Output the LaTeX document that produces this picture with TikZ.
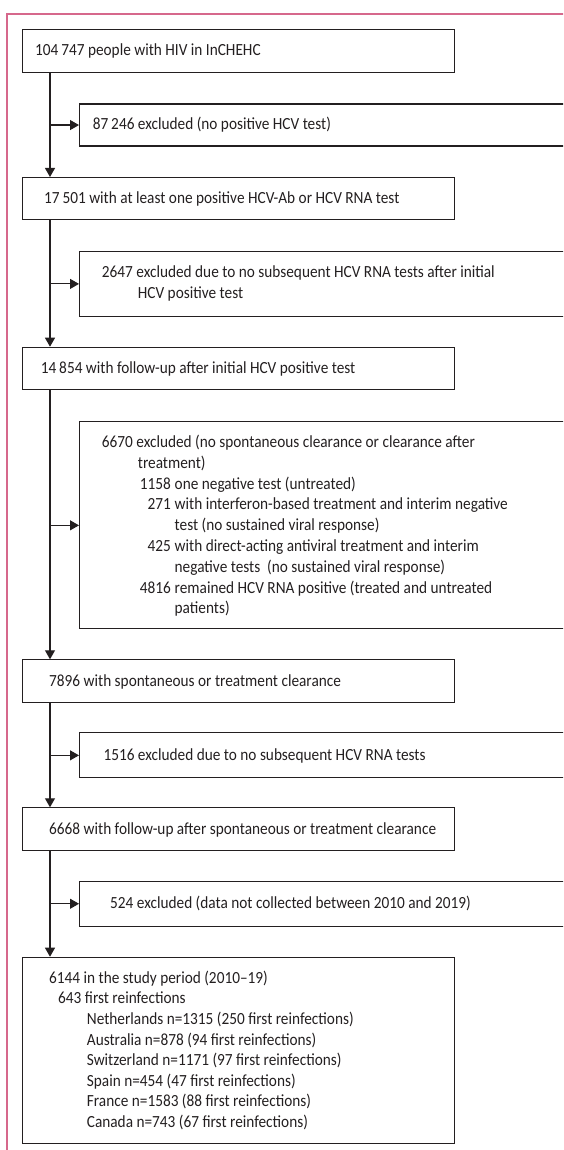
\documentclass[tikz,border=0pt]{standalone}
\usepackage{fontspec}
\setmainfont{Carlito}[FakeStretch=0.9]
\usetikzlibrary{arrows.meta}
\definecolor{frame}{RGB}{214,104,140}
\definecolor{ink}{RGB}{35,31,32}
\tikzset{
  box/.style={draw=ink, line width=1.1pt, rectangle, anchor=north west, inner sep=0pt},
  mainbox/.style={box, minimum width=432.5pt},
  exbox/.style={box, minimum width=520pt},
  txt/.style={anchor=base west, inner sep=0pt, text=ink, font=\fontsize{17pt}{20pt}\selectfont},
  num/.style={txt, anchor=base east},
  arr/.style={draw=ink, line width=1.1pt, -{Triangle[length=9pt,width=10pt]}},
  line/.style={draw=ink, line width=1.1pt}
}
\begin{document}
\begin{tikzpicture}[x=1pt,y=-1pt]
\useasboundingbox (0,0) rectangle (563,1150);
\clip (0,0) rectangle (563,1150);
\draw[frame, line width=2pt] (7,1160) -- (7,14) -- (600,14);
\coordinate (tx) at (50,0);
% boxes
\node[mainbox, minimum height=43pt] (b1) at (21.5,29) {};
\node[exbox, minimum height=42pt] (e1) at (79,103.5) {};
\node[mainbox, minimum height=42pt] (b2) at (21.5,177) {};
\node[exbox, minimum height=65.3pt] (e2) at (79,250.7) {};
\node[mainbox, minimum height=42.6pt] (b3) at (21.5,346.7) {};
\node[exbox, minimum height=207pt] (e3) at (79,421.3) {};
\node[mainbox, minimum height=42.4pt] (b4) at (21.5,659.3) {};
\node[exbox, minimum height=45pt] (e4) at (79,732.3) {};
\node[mainbox, minimum height=42.7pt] (b5) at (21.5,807.3) {};
\node[exbox, minimum height=45pt] (e5) at (79,880.7) {};
\node[mainbox, minimum height=186pt] (b6) at (21.5,956.7) {};
% connectors
\draw[arr] (b1.south west -| tx) -- (b2.north west -| tx);
\draw[arr] (b2.south west -| tx) -- (b3.north west -| tx);
\draw[arr] (b3.south west -| tx) -- (b4.north west -| tx);
\draw[arr] (b4.south west -| tx) -- (b5.north west -| tx);
\draw[arr] (b5.south west -| tx) -- (b6.north west -| tx);
\draw[arr] (e1.west -| tx) -- (e1.west);
\draw[arr] (e2.west -| tx) -- (e2.west);
\draw[arr] (e3.west -| tx) -- (e3.west);
\draw[arr] (e4.west -| tx) -- (e4.west);
\draw[arr] (e5.west -| tx) -- (e5.west);
% texts
\node[txt] (t1) at (35,56) {104\,747 people with HIV in InCHEHC};
\node[txt] (t2) at (92.7,130) {87\,246 excluded (no positive HCV test)};
\node[txt] (t3) at (44,203.5) {17\,501 with at least one positive HCV-Ab or HCV RNA test};
\node[txt] (t4a) at (101.7,277.5) {2647 excluded due to no subsequent HCV RNA tests after initial};
\node[txt] (t4b) at (137.7,298) {HCV positive test};
\node[txt] (t5) at (40.7,373.5) {14\,854 with follow-up after initial HCV positive test};
\node[txt] (t6a) at (101.7,447.5) {6670 excluded (no spontaneous clearance or clearance after};
\node[txt] (t6b) at (137.7,468.3) {treatment)};
\node[num] (n1) at (171,489.1) {1158};
\node[txt] (t6c) at (174.5,489.1) {one negative test (untreated)};
\node[num] (n2) at (171,509.9) {271};
\node[txt] (t6d) at (174.5,509.9) {with interferon-based treatment and interim negative};
\node[txt] (t6e) at (174.5,530.7) {test (no sustained viral response)};
\node[num] (n3) at (171,551.5) {425};
\node[txt] (t6f) at (174.5,551.5) {with direct-acting antiviral treatment and interim};
\node[txt] (t6g) at (174.5,572.3) {negative tests\ \ (no sustained viral response)};
\node[num] (n4) at (171,593.1) {4816};
\node[txt] (t6h) at (174.5,593.1) {remained HCV RNA positive (treated and untreated};
\node[txt] (t6i) at (174.5,613.9) {patients)};
\node[txt] (t7) at (49,686) {7896 with spontaneous or treatment clearance};
\node[txt] (t8) at (103.3,760.3) {1516 excluded due to no subsequent HCV RNA tests};
\node[txt] (t9) at (49,834.2) {6668 with follow-up after spontaneous or treatment clearance};
\node[txt] (t10) at (110,908.7) {524 excluded (data not collected between 2010 and 2019)};
\node[txt] (t11a) at (49,983.3) {6144 in the study period (2010--19)};
\node[txt] (t11b) at (58,1003.9) {643 first reinfections};
\node[txt] (t11c) at (86.7,1024.4) {Netherlands n=1315 (250 first reinfections)};
\node[txt] (t11d) at (86.7,1045) {Australia n=878 (94 first reinfections)};
\node[txt] (t11e) at (86.7,1065.6) {Switzerland n=1171 (97 first reinfections)};
\node[txt] (t11f) at (86.7,1086.1) {Spain n=454 (47 first reinfections)};
\node[txt] (t11g) at (86.7,1106.7) {France n=1583 (88 first reinfections)};
\node[txt] (t11h) at (86.7,1127.3) {Canada n=743 (67 first reinfections)};
\end{tikzpicture}
\end{document}
